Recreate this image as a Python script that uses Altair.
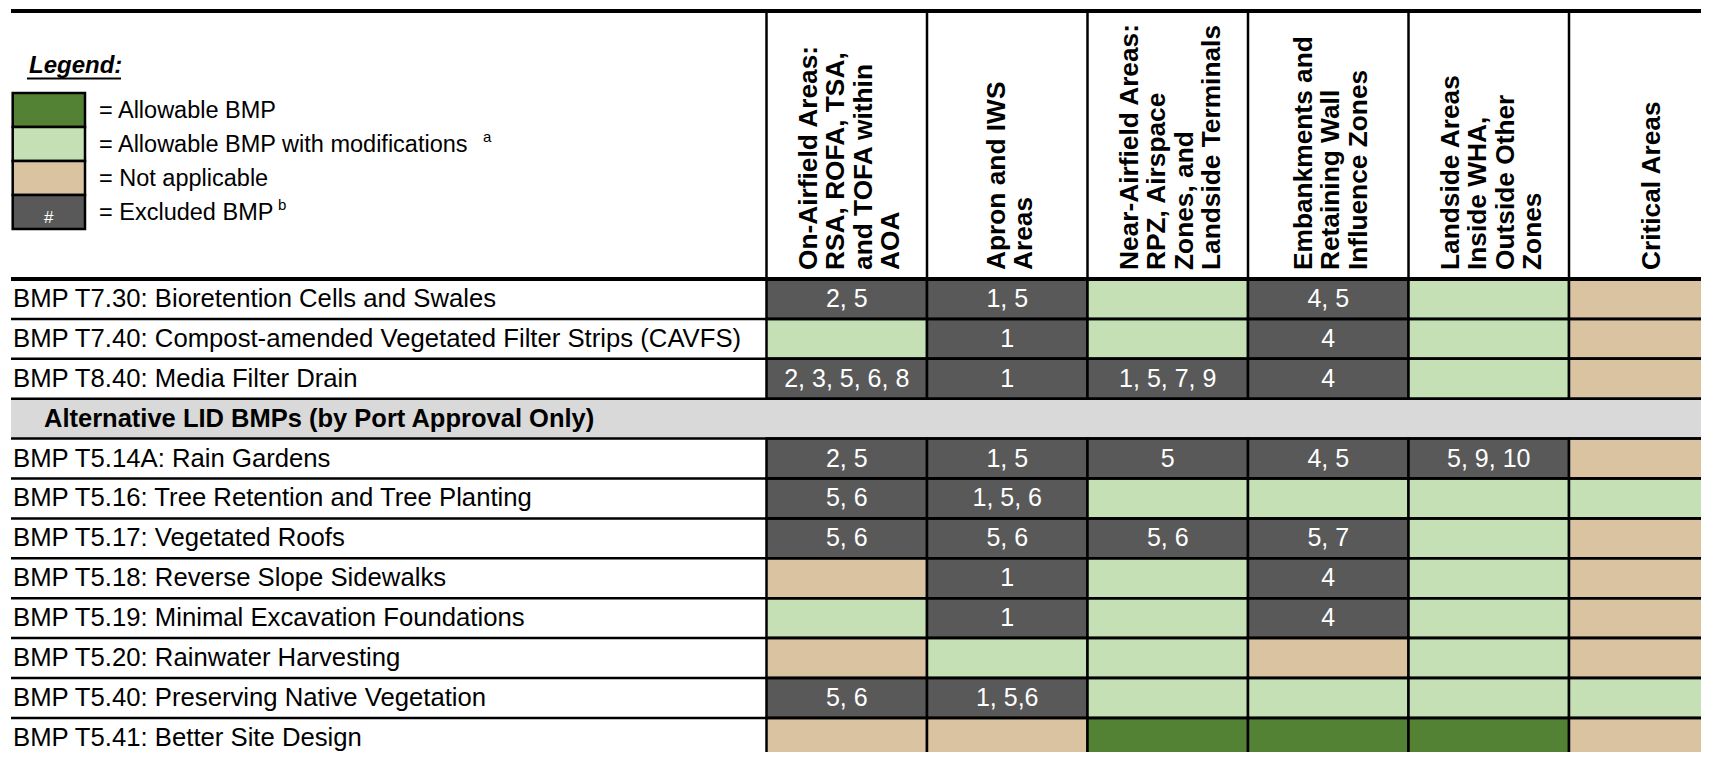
import altair as alt
import pandas as pd

# ---------------- data ----------------
column_headers = [
    "On-Airfield Areas:\nRSA, ROFA, TSA,\nand TOFA within\nAOA",
    "Apron and IWS\nAreas",
    "Near-Airfield Areas:\nRPZ, Airspace\nZones, and\nLandside Terminals",
    "Embankments and\nRetaining Wall\nInfluence Zones",
    "Landside Areas\nInside WHA,\nOutside Other\nZones",
    "Critical Areas",
]

bmp_labels = [
    "BMP T7.30: Bioretention Cells and Swales",
    "BMP T7.40: Compost-amended Vegetated Filter Strips (CAVFS)",
    "BMP T8.40: Media Filter Drain",
    "BMP T5.14A: Rain Gardens",
    "BMP T5.16: Tree Retention and Tree Planting",
    "BMP T5.17: Vegetated Roofs",
    "BMP T5.18: Reverse Slope Sidewalks",
    "BMP T5.19: Minimal Excavation Foundations",
    "BMP T5.20: Rainwater Harvesting",
    "BMP T5.40: Preserving Native Vegetation",
    "BMP T5.41: Better Site Design",
]

section_title = "Alternative LID BMPs (by Port Approval Only)"
section_before_bmp = 3  # the section row sits before this BMP index

# A = Allowable, M = Allowable with modifications, N = Not applicable, X = Excluded
cell_status = [
    ["X", "X", "M", "X", "M", "N"],
    ["M", "X", "M", "X", "M", "N"],
    ["X", "X", "X", "X", "M", "N"],
    ["X", "X", "X", "X", "X", "N"],
    ["X", "X", "M", "M", "M", "M"],
    ["X", "X", "X", "X", "M", "N"],
    ["N", "X", "M", "X", "M", "N"],
    ["M", "X", "M", "X", "M", "N"],
    ["N", "M", "M", "N", "M", "N"],
    ["X", "X", "M", "M", "M", "M"],
    ["N", "N", "A", "A", "A", "N"],
]

cell_notes = [
    ["2, 5", "1, 5", "", "4, 5", "", ""],
    ["", "1", "", "4", "", ""],
    ["2, 3, 5, 6, 8", "1", "1, 5, 7, 9", "4", "", ""],
    ["2, 5", "1, 5", "5", "4, 5", "5, 9, 10", ""],
    ["5, 6", "1, 5, 6", "", "", "", ""],
    ["5, 6", "5, 6", "5, 6", "5, 7", "", ""],
    ["", "1", "", "4", "", ""],
    ["", "1", "", "4", "", ""],
    ["", "", "", "", "", ""],
    ["5, 6", "1, 5,6", "", "", "", ""],
    ["", "", "", "", "", ""],
]

status_keys = ["A", "M", "N", "X"]
status_colors = ["#548235", "#C5E0B4", "#D9C3A0", "#595959"]

legend_title = "Legend:"
legend_labels = [
    "= Allowable BMP",
    "= Allowable BMP with modifications",
    "= Not applicable",
    "= Excluded BMP",
]
legend_symbols = ["", "", "", "#"]
legend_superscripts = ["", "a", "", "b"]

# ---------------- layout (chart pixels) ----------------
W, H = 1693, 744
FONT = "Liberation Sans"
COL_W = 160.5
ROW_H = 39.9
DATA_LEFT = 758.5
TABLE_LEFT = 3.0
TABLE_TOP = 3.0
HEADER_BOTTOM = 271.0
HEAD_LH = 27.5


def ux(px):
    return (px - DATA_LEFT) / COL_W


def vy(py):
    return (py - HEADER_BOTTOM) / ROW_H


X_MIN, X_MAX = ux(0), ux(W)
Y_MIN, Y_MAX = vy(0), vy(H)
x_scale = alt.Scale(domain=[X_MIN, X_MAX], nice=False, zero=False)
y_scale = alt.Scale(domain=[Y_MIN, Y_MAX], nice=False, zero=False, reverse=True)


def X(f):
    return alt.X(f, type="quantitative", scale=x_scale, axis=None)


def Y(f):
    return alt.Y(f, type="quantitative", scale=y_scale, axis=None)


n_rows = len(bmp_labels) + 1
n_cols = len(column_headers)


def display_row(i):
    return i if i < section_before_bmp else i + 1


# cells
cell_recs = []
label_recs = []
for i, lab in enumerate(bmp_labels):
    r = display_row(i)
    label_recs.append({"x": ux(TABLE_LEFT + 2), "y": r + 0.5, "label": lab})
    for j in range(n_cols):
        cell_recs.append({
            "x": j, "x2": j + 1, "y": r, "y2": r + 1,
            "cx": j + 0.5, "cy": r + 0.5,
            "status": cell_status[i][j], "note": cell_notes[i][j],
        })
cells_df = pd.DataFrame(cell_recs)
notes_df = cells_df[cells_df["note"] != ""]
labels_df = pd.DataFrame(label_recs)

sec_r = section_before_bmp
section_df = pd.DataFrame([{
    "x": ux(TABLE_LEFT), "x2": X_MAX + 1, "y": sec_r, "y2": sec_r + 1,
    "tx": ux(TABLE_LEFT + 33), "ty": sec_r + 0.5, "label": section_title,
}])

# horizontal rules
h_recs = [{"x": ux(TABLE_LEFT), "x2": X_MAX + 1, "y": vy(TABLE_TOP), "w": 4.0}]
for r in range(n_rows + 1):
    h_recs.append({"x": ux(TABLE_LEFT), "x2": X_MAX + 1, "y": r, "w": 4.0 if r == 0 else 2.5})
h_df = pd.DataFrame(h_recs)

# vertical rules in header
v_df = pd.DataFrame([{"x": j, "y": vy(TABLE_TOP), "y2": 0, "w": 2.5} for j in range(n_cols + 1)])

# header text: block of lines centred on the column (first line leftmost)
head_recs = []
for j, h in enumerate(column_headers):
    n_lines = len(h.split("\n"))
    shift_px = -(n_lines - 1) / 2 * HEAD_LH + 3
    head_recs.append({"x": j + 0.5 + shift_px / COL_W, "y": vy(262), "label": h})
head_df = pd.DataFrame(head_recs)

# legend
SW_X0, SW_X1 = 4.7, 77.0
SW_TOP, SW_H = 85.0, 34.0
leg_box = []
for k, key in enumerate(status_keys):
    top = SW_TOP + k * SW_H
    leg_box.append({
        "x": ux(SW_X0), "x2": ux(SW_X1), "y": vy(top), "y2": vy(top + SW_H),
        "status": key, "lx": ux(91), "ly": vy(top + SW_H / 2 + 0.5),
        "label": legend_labels[k], "sym": legend_symbols[k],
        "sx": ux((SW_X0 + SW_X1) / 2), "sy": vy(top + SW_H / 2 + 6),
    })
leg_df = pd.DataFrame(leg_box)
sym_df = leg_df[leg_df["sym"] != ""]

sup_x = {"a": 475.0, "b": 270.0}
sup_recs = []
for k, s in enumerate(legend_superscripts):
    if s:
        top = SW_TOP + k * SW_H
        sup_recs.append({"x": ux(sup_x[s]), "y": vy(top + SW_H / 2 - 7), "label": s})
sup_df = pd.DataFrame(sup_recs)

title_df = pd.DataFrame([{"x": ux(21), "y": vy(65), "label": legend_title,
                          "ux0": ux(19), "ux1": ux(113), "uy": vy(70.5)}])

color_enc = alt.Color("status:N", scale=alt.Scale(domain=status_keys, range=status_colors), legend=None)

# ---------------- layers ----------------
section_bg = alt.Chart(section_df).mark_rect(color="#D9D9D9", clip=True).encode(
    x=X("x"), x2="x2", y=Y("y"), y2="y2")

cells = alt.Chart(cells_df).mark_rect(stroke="black", strokeWidth=2.5, clip=True).encode(
    x=X("x"), x2="x2", y=Y("y"), y2="y2", color=color_enc)

hrules = alt.Chart(h_df).mark_rule(color="black", clip=True).encode(
    x=X("x"), x2="x2", y=Y("y"), strokeWidth=alt.StrokeWidth("w:Q", scale=None))

vrules = alt.Chart(v_df).mark_rule(color="black", clip=True).encode(
    x=X("x"), y=Y("y"), y2="y2", strokeWidth=alt.StrokeWidth("w:Q", scale=None))

row_labels = alt.Chart(labels_df).mark_text(
    align="left", baseline="middle", font=FONT, fontSize=25.7, color="black").encode(
    x=X("x"), y=Y("y"), text="label:N")

section_text = alt.Chart(section_df).mark_text(
    align="left", baseline="middle", font=FONT, fontSize=25.5, fontWeight="bold", color="black").encode(
    x=X("tx"), y=Y("ty"), text="label:N")

notes = alt.Chart(notes_df).mark_text(
    align="center", baseline="middle", font=FONT, fontSize=25, color="white", clip=True).encode(
    x=X("cx"), y=Y("cy"), text="note:N")

headers = alt.Chart(head_df).mark_text(
    align="left", baseline="middle", angle=270, font=FONT, fontSize=26.3, fontWeight="bold",
    color="black", lineBreak="\n", lineHeight=HEAD_LH, clip=True).encode(
    x=X("x"), y=Y("y"), text="label:N")

leg_title = alt.Chart(title_df).mark_text(
    align="left", baseline="alphabetic", font=FONT, fontSize=24, fontWeight="bold",
    fontStyle="italic", color="black").encode(x=X("x"), y=Y("y"), text="label:N")

leg_underline = alt.Chart(title_df).mark_rule(color="black", strokeWidth=2).encode(
    x=X("ux0"), x2="ux1", y=Y("uy"))

leg_boxes = alt.Chart(leg_df).mark_rect(stroke="black", strokeWidth=2.5).encode(
    x=X("x"), x2="x2", y=Y("y"), y2="y2", color=color_enc)

leg_syms = alt.Chart(sym_df).mark_text(
    align="center", baseline="middle", font=FONT, fontSize=17, color="white").encode(
    x=X("sx"), y=Y("sy"), text="sym:N")

leg_labels = alt.Chart(leg_df).mark_text(
    align="left", baseline="middle", font=FONT, fontSize=23.5, color="black").encode(
    x=X("lx"), y=Y("ly"), text="label:N")

leg_sups = alt.Chart(sup_df).mark_text(
    align="left", baseline="middle", font=FONT, fontSize=15, color="black").encode(
    x=X("x"), y=Y("y"), text="label:N")

chart = alt.layer(
    section_bg, cells, hrules, vrules, row_labels, section_text, notes, headers,
    leg_title, leg_underline, leg_boxes, leg_syms, leg_labels, leg_sups,
).properties(
    width=W, height=H, padding=0, background="white",
    autosize=alt.AutoSizeParams(type="none"),
).configure_view(stroke=None)

chart.save("out.html", embed_options={"renderer": "svg", "actions": False})
